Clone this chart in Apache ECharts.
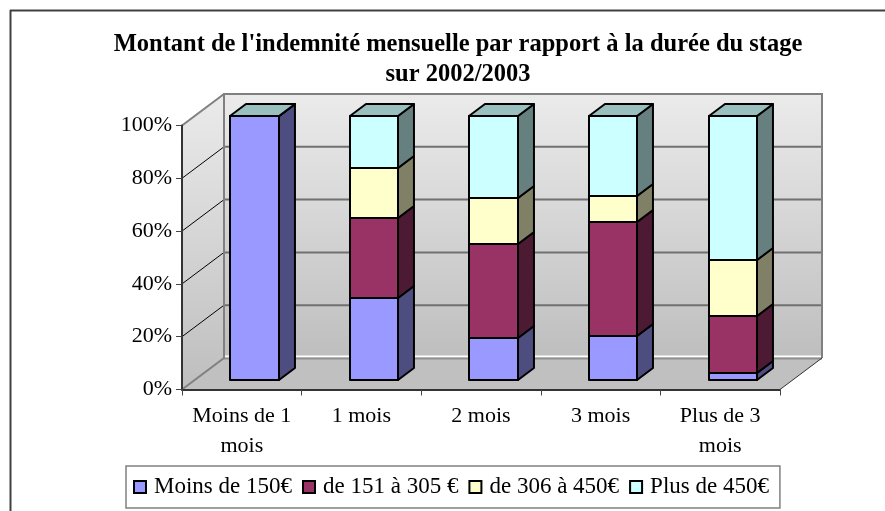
<!DOCTYPE html>
<html>
<head>
<meta charset="utf-8">
<style>html,body{margin:0;padding:0;background:#fff}#c{width:885px;height:511px}</style>
<script src="https://cdn.jsdelivr.net/npm/echarts@6/dist/echarts.min.js"></script>
</head>
<body>
<div id="c"></div>
<script>
var categories = ["Moins de 1\nmois", "1 mois", "2 mois", "3 mois", "Plus de 3\nmois"];
var seriesNames = ["Moins de 150€", "de 151 à 305 €", "de 306 à 450€", "Plus de 450€"];
var lowBand = [100, 31.2, 16, 16.7, 2.5];
var midLowBand = [0, 30.3, 35.5, 43.1, 21.7];
var midHighBand = [0, 18.9, 17.5, 10, 21.3];
var highBand = [0, 19.6, 31, 30.2, 54.5];
var yTicks = [0, 20, 40, 60, 80, 100];
var frontColors = ["#9999FF", "#993366", "#FFFFCC", "#CCFFFF"];
var sideColors = ["#4D4D80", "#4D1A33", "#808066", "#668080"];
var topColor = "#99BFBF";

var FONT = '"Liberation Serif","Times New Roman",serif';
var DX = 42, DY = -31.5;          // wall depth
var NEAR = 0.3, DEPTH = 0.38, BARW = 0.405;

var bands = [lowBand, midLowBand, midHighBand, highBand];
var running = categories.map(function () { return 0; });

function renderWalls(params, api) {
  var cs = params.coordSys;
  var x0 = cs.x, x1 = cs.x + cs.width, yT = cs.y, yB = cs.y + cs.height;
  var grad = {type: 'linear', x: 0, y: 0, x2: 0, y2: 1,
    colorStops: [{offset: 0, color: '#EBEBEB'}, {offset: 1, color: '#BEBEBE'}]};
  var kids = [];
  kids.push({type: 'polygon', shape: {points: [[x0, yB], [x0 + DX, yB + DY], [x0 + DX, yT + DY], [x0, yT]]},
    style: {fill: grad}});
  kids.push({type: 'rect', shape: {x: x0 + DX, y: yT + DY, width: cs.width, height: cs.height},
    style: {fill: grad}});
  kids.push({type: 'polygon', shape: {points: [[x0, yB], [x1, yB], [x1 + DX, yB + DY], [x0 + DX, yB + DY]]},
    style: {fill: '#C0C0C0'}});
  yTicks.forEach(function (t) {
    var p = api.coord([0, t]);
    var y = p[1];
    if (t > 0 && t < 100) {
      kids.push({type: 'line', shape: {x1: x0, y1: y, x2: x0 + DX, y2: y + DY},
        style: {stroke: '#000', lineWidth: 1}});
      kids.push({type: 'line', shape: {x1: x0 + DX, y1: y + DY, x2: x1 + DX, y2: y + DY},
        style: {stroke: '#707070', lineWidth: 2}});
    }
  });
  kids.push({type: 'line', shape: {x1: x0 + DX, y1: yB + DY - 1.5, x2: x1 + DX, y2: yB + DY - 1.5},
    style: {stroke: '#fff', lineWidth: 2}});
  kids.push({type: 'line', shape: {x1: x0 + DX, y1: yB + DY + 0.5, x2: x1 + DX, y2: yB + DY + 0.5},
    style: {stroke: '#909090', lineWidth: 2}});
  kids.push({type: 'polyline', shape: {points: [[x0, yB], [x0 + DX, yB + DY], [x0 + DX, yT + DY], [x1 + DX, yT + DY], [x1 + DX, yB + DY]]},
    style: {stroke: '#808080', fill: null, lineWidth: 2}});
  kids.push({type: 'line', shape: {x1: x0, y1: yT, x2: x0 + DX, y2: yT + DY},
    style: {stroke: '#808080', lineWidth: 2}});
  kids.push({type: 'line', shape: {x1: x1, y1: yB, x2: x1 + DX, y2: yB + DY},
    style: {stroke: '#333', lineWidth: 1}});
  return {type: 'group', children: kids};
}

function makeBarRenderer(si) {
  return function (params, api) {
    var idx = api.value(0);
    var lo = api.coord([idx, api.value(1)]);
    var hi = api.coord([idx, api.value(2)]);
    var band = api.size([1, 0])[0];
    var w = band * BARW;
    var nx = DX * NEAR, ny = DY * NEAR;
    var sx = DX * DEPTH, sy = DY * DEPTH;
    var xl = Math.round(lo[0] - w / 2 + nx) + 0.0;
    var xr = Math.round(lo[0] + w / 2 + nx) + 0.0;
    var yb = Math.round(lo[1] + ny);
    var yt = Math.round(hi[1] + ny);
    var line = {stroke: '#000', lineWidth: 2, lineJoin: 'round'};
    var kids = [
      {type: 'polygon', shape: {points: [[xr, yb], [xr + sx, yb + sy], [xr + sx, yt + sy], [xr, yt]]},
        style: Object.assign({fill: sideColors[si]}, line)},
      {type: 'rect', shape: {x: xl, y: yt, width: xr - xl, height: yb - yt},
        style: Object.assign({fill: frontColors[si]}, line)}
    ];
    if (si === seriesNames.length - 1) {
      kids.push({type: 'polygon', shape: {points: [[xl, yt], [xr, yt], [xr + sx, yt + sy], [xl + sx, yt + sy]]},
        style: Object.assign({fill: topColor}, line)});
    }
    return {type: 'group', children: kids};
  };
}

var series = [{
  type: 'custom', name: 'walls', silent: true, z: 1, clip: false,
  renderItem: renderWalls, data: [[0, 0]], encode: {x: 0, y: 1}
}];
bands.forEach(function (vals, si) {
  var rows = vals.map(function (v, i) {
    var low = running[i];
    running[i] = low + v;
    return [i, low, running[i]];
  });
  series.push({
    type: 'custom', name: seriesNames[si], z: 2 + si, clip: false,
    itemStyle: {color: frontColors[si], borderColor: '#000', borderWidth: 2},
    renderItem: makeBarRenderer(si), data: rows, encode: {x: 0, y: [1, 2]}
  });
});

var chart = echarts.init(document.getElementById('c'), null, {renderer: 'canvas'});
chart.setOption({
  animation: false,
  backgroundColor: '#fff',
  title: {
    text: "Montant de l'indemnité mensuelle par rapport à la durée du stage\nsur 2002/2003",
    left: 453, top: 25, textAlign: 'center',
    textStyle: {fontFamily: FONT, fontWeight: 'bold', fontSize: 24.5, lineHeight: 30, color: '#000'}
  },
  grid: {left: 182, top: 125.5, width: 598, height: 264, containLabel: false},
  xAxis: {
    type: 'category', data: categories, z: 6,
    axisLine: {lineStyle: {color: '#333', width: 2}},
    axisTick: {show: true, alignWithLabel: false, length: 6, lineStyle: {color: '#444', width: 1}},
    axisLabel: {fontFamily: FONT, fontSize: 22, lineHeight: 30, color: '#000', margin: 12, interval: 0}
  },
  yAxis: {
    type: 'value', min: 0, max: 100, interval: 20, z: 6,
    axisLine: {show: true, lineStyle: {color: '#333', width: 2}},
    axisTick: {show: true, length: 6, lineStyle: {color: '#444', width: 1}},
    splitLine: {show: false},
    axisLabel: {fontFamily: FONT, fontSize: 22, color: '#000', margin: 10, formatter: '{value}%'}
  },
  legend: {
    data: seriesNames, orient: 'horizontal', left: 126, top: 466,
    padding: [9.5, 11, 9.5, 7], itemGap: 10, itemWidth: 12, itemHeight: 12,
    backgroundColor: '#fff', borderColor: '#808080', borderWidth: 1.5,
    selectedMode: false, icon: 'rect',
    textStyle: {fontFamily: FONT, fontSize: 23, color: '#000', padding: [0, 0, 0, 3]}
  },
  graphic: [
    {type: 'line', silent: true, shape: {x1: 10, y1: 10.5, x2: 885, y2: 10.5}, style: {stroke: '#404040', lineWidth: 2}},
    {type: 'line', silent: true, shape: {x1: 10.5, y1: 10, x2: 10.5, y2: 511}, style: {stroke: '#404040', lineWidth: 2}}
  ],
  series: series
});
</script>
</body>
</html>
